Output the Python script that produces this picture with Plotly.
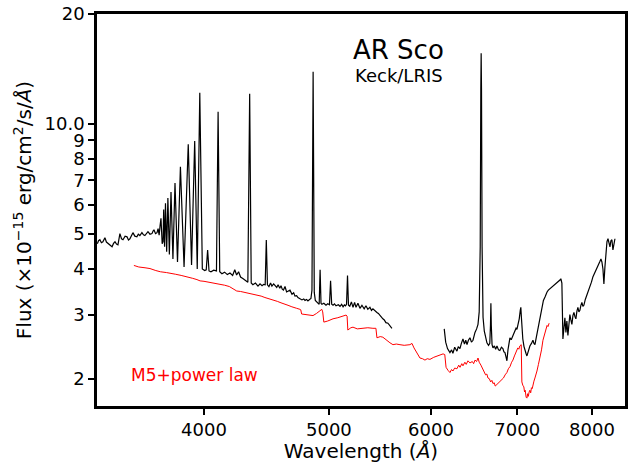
import math
import plotly.graph_objects as go

# ---- data (wavelength in Angstrom, flux in 1e-15 erg/cm2/s/A) ----
black_blue_arm = [
    (3306, 4.69), (3313, 4.78), (3321, 4.81), (3330, 4.72), (3339, 4.75), (3351, 4.87),
    (3360, 4.74), (3370, 4.69), (3382, 4.63), (3394, 4.60), (3403, 4.70), (3412, 4.75),
    (3421, 4.68), (3430, 4.66), (3442, 5.00), (3452, 4.84), (3461, 4.81), (3474, 4.92),
    (3486, 4.90), (3495, 4.80), (3504, 4.84), (3515, 4.96), (3523, 5.03), (3535, 4.92),
    (3548, 4.90), (3557, 4.98), (3567, 4.94), (3580, 5.03), (3590, 4.96), (3599, 4.94),
    (3610, 5.02), (3619, 5.06), (3632, 4.98), (3645, 5.00), (3652, 5.08), (3658, 5.12),
    (3668, 5.00), (3678, 5.03), (3685, 5.16), (3692, 4.95), (3698, 5.25), (3704, 5.51),
    (3712, 4.69), (3718, 4.75), (3722, 5.82), (3728, 4.60), (3734, 6.06), (3742, 4.46),
    (3750, 6.26), (3760, 4.38), (3771, 6.50), (3784, 4.26), (3798, 6.88), (3815, 4.18),
    (3835, 7.62), (3860, 4.05), (3889, 8.79), (3912, 4.10), (3934, 8.97), (3952, 4.00),
    (3970, 12.16), (3988, 4.00), (4005, 3.96), (4016, 3.98), (4026, 4.51), (4036, 3.95),
    (4050, 3.93), (4070, 3.97), (4090, 3.95), (4102, 10.79), (4114, 3.93), (4130, 3.88),
    (4150, 3.92), (4170, 3.86), (4190, 3.90), (4210, 3.84), (4226, 3.98), (4240, 3.85),
    (4255, 3.93), (4270, 3.80), (4290, 3.76), (4310, 3.72), (4326, 3.68), (4340, 12.08),
    (4352, 3.66), (4365, 3.62), (4385, 3.66), (4405, 3.59), (4421, 3.64), (4437, 3.60),
    (4450, 3.63), (4462, 3.62), (4471, 4.80), (4480, 3.62), (4492, 3.58), (4505, 3.66),
    (4516, 3.59), (4530, 3.64), (4541, 3.60), (4555, 3.56), (4566, 3.62), (4580, 3.54),
    (4590, 3.60), (4600, 3.52), (4610, 3.50), (4623, 3.58), (4636, 3.46), (4648, 3.48),
    (4664, 3.50), (4681, 3.41), (4695, 3.44), (4706, 3.37), (4720, 3.38), (4731, 3.34),
    (4748, 3.31), (4765, 3.29), (4780, 3.31), (4791, 3.28), (4805, 3.30), (4816, 3.27),
    (4830, 3.30), (4842, 3.32), (4851, 3.50), (4857, 8.0), (4861, 13.9), (4865, 8.0),
    (4871, 3.45), (4880, 3.28), (4894, 3.24), (4905, 3.22), (4914, 3.20), (4922, 3.98),
    (4930, 3.22), (4938, 3.20), (4955, 3.22), (4974, 3.18), (4990, 3.21), (5005, 3.19),
    (5015, 3.71), (5025, 3.20), (5037, 3.18), (5050, 3.21), (5064, 3.17), (5085, 3.19),
    (5100, 3.16), (5115, 3.20), (5128, 3.15), (5140, 3.19), (5150, 3.17), (5160, 3.20),
    (5169, 3.84), (5178, 3.18), (5190, 3.16), (5205, 3.25), (5220, 3.14), (5235, 3.24),
    (5248, 3.14), (5266, 3.22), (5285, 3.12), (5304, 3.18), (5325, 3.11), (5342, 3.17),
    (5360, 3.10), (5380, 3.14), (5395, 3.08), (5409, 3.11), (5430, 3.06), (5448, 3.04),
    (5462, 3.02), (5477, 2.98), (5490, 2.95), (5506, 2.92), (5520, 2.90), (5536, 2.85),
    (5556, 2.84), (5576, 2.79), (5596, 2.75),
]

black_red_arm = [
    (6144, 2.74), (6160, 2.52), (6180, 2.42), (6207, 2.36), (6225, 2.40), (6240, 2.35),
    (6260, 2.44), (6285, 2.38), (6300, 2.45), (6319, 2.42), (6335, 2.50), (6353, 2.57),
    (6370, 2.49), (6385, 2.55), (6399, 2.48), (6415, 2.55), (6433, 2.59), (6450, 2.52),
    (6468, 2.55), (6480, 2.62), (6491, 2.68), (6510, 2.74), (6526, 2.82), (6540, 3.05),
    (6552, 4.6), (6559, 12.5), (6563, 15.6), (6567, 12.5), (6574, 4.6), (6585, 2.95),
    (6600, 2.70), (6615, 2.58), (6631, 2.51), (6650, 2.47), (6665, 2.50), (6673, 2.80),
    (6678, 3.22), (6683, 2.80), (6692, 2.48), (6703, 2.43), (6720, 2.46), (6735, 2.41),
    (6751, 2.46), (6770, 2.40), (6786, 2.39), (6805, 2.44), (6823, 2.42), (6835, 2.37),
    (6848, 2.36), (6860, 2.30), (6872, 2.24), (6885, 2.40), (6900, 2.52), (6909, 2.59),
    (6925, 2.56), (6946, 2.63), (6960, 2.66), (6971, 2.70), (6985, 2.75), (6996, 2.73),
    (7010, 2.80), (7025, 2.92), (7038, 3.08), (7045, 3.14), (7052, 2.95), (7058, 2.68),
    (7070, 2.57), (7085, 2.45), (7096, 2.39), (7110, 2.35), (7122, 2.31), (7140, 2.40),
    (7160, 2.46), (7180, 2.50), (7199, 2.55), (7212, 2.50), (7225, 2.48), (7240, 2.58),
    (7251, 2.66), (7270, 2.80), (7290, 2.94), (7303, 3.06), (7316, 3.18), (7335, 3.28),
    (7356, 3.35), (7370, 3.42), (7383, 3.46), (7400, 3.50), (7420, 3.53), (7440, 3.56),
    (7460, 3.59), (7480, 3.60), (7500, 3.64), (7520, 3.66), (7540, 3.70), (7555, 3.73),
    (7567, 3.76), (7581, 3.66), (7595, 2.57), (7608, 2.75), (7622, 2.94), (7636, 2.68),
    (7649, 2.88), (7663, 2.63), (7676, 2.85), (7690, 3.00), (7704, 2.90), (7718, 2.82),
    (7732, 2.98), (7746, 3.04), (7760, 2.96), (7773, 2.92), (7787, 3.06), (7801, 3.14),
    (7815, 3.05), (7829, 3.08), (7843, 3.18), (7857, 3.24), (7871, 3.16), (7885, 3.18),
    (7905, 3.30), (7928, 3.39), (7950, 3.48), (7971, 3.57), (7992, 3.68), (8014, 3.81),
    (8035, 3.88), (8057, 3.98), (8078, 4.06), (8100, 4.13), (8115, 4.20), (8129, 4.26),
    (8143, 4.18), (8158, 4.00), (8172, 3.64), (8187, 4.05), (8202, 4.45), (8217, 4.75),
    (8232, 4.84), (8246, 4.70), (8261, 4.60), (8275, 4.78), (8290, 4.81), (8305, 4.51),
    (8320, 4.75), (8335, 4.84),
]

model_m5_powerlaw = [
    (3529, 4.09), (3560, 4.05), (3600, 4.03), (3632, 4.01), (3670, 3.96), (3700, 3.93),
    (3740, 3.91), (3764, 3.90), (3800, 3.87), (3840, 3.84), (3883, 3.81), (3920, 3.77),
    (3950, 3.74), (3972, 3.71), (4000, 3.70), (4040, 3.68), (4080, 3.66), (4116, 3.64),
    (4150, 3.61), (4185, 3.58), (4214, 3.53), (4241, 3.48), (4270, 3.47), (4300, 3.45),
    (4330, 3.44), (4365, 3.42), (4400, 3.39), (4430, 3.37), (4460, 3.34), (4500, 3.31),
    (4530, 3.29), (4560, 3.26), (4590, 3.23), (4620, 3.21), (4648, 3.18), (4680, 3.15),
    (4700, 3.14), (4720, 3.12), (4748, 3.10), (4755, 3.09), (4762, 3.01), (4790, 3.00),
    (4820, 2.99), (4860, 2.98), (4890, 3.02), (4915, 3.06), (4937, 3.10), (4945, 3.05),
    (4955, 2.86), (4990, 2.88), (5037, 2.92), (5080, 2.94), (5120, 2.96), (5156, 2.99),
    (5165, 2.97), (5172, 2.72), (5200, 2.76), (5220, 2.77), (5260, 2.74), (5313, 2.75),
    (5360, 2.76), (5409, 2.75), (5438, 2.75), (5448, 2.59), (5480, 2.61), (5506, 2.60),
    (5540, 2.55), (5576, 2.51), (5606, 2.48), (5640, 2.49), (5677, 2.48), (5720, 2.47),
    (5779, 2.48), (5800, 2.50), (5821, 2.43), (5852, 2.36), (5883, 2.28), (5910, 2.27),
    (5936, 2.25), (5960, 2.27), (5989, 2.26), (6030, 2.29), (6065, 2.31), (6100, 2.32),
    (6131, 2.34), (6150, 2.33), (6164, 2.15), (6185, 2.11), (6207, 2.08), (6225, 2.12),
    (6240, 2.10), (6260, 2.14), (6285, 2.13), (6305, 2.18), (6320, 2.15), (6340, 2.20),
    (6353, 2.17), (6375, 2.22), (6390, 2.19), (6410, 2.24), (6433, 2.21), (6460, 2.23),
    (6475, 2.20), (6491, 2.25), (6510, 2.23), (6526, 2.28), (6540, 2.22), (6560, 2.18),
    (6583, 2.12), (6600, 2.09), (6615, 2.05), (6630, 2.06), (6643, 2.01), (6660, 2.00),
    (6675, 1.96), (6690, 1.98), (6703, 1.94), (6718, 1.95), (6730, 1.91), (6751, 1.93),
    (6770, 1.95), (6786, 1.96), (6805, 1.99), (6830, 2.01), (6850, 2.05), (6872, 2.08),
    (6890, 2.13), (6910, 2.16), (6930, 2.22), (6946, 2.25), (6965, 2.31), (6980, 2.35),
    (6995, 2.40), (7007, 2.43), (7020, 2.41), (7032, 2.46), (7050, 2.48), (7058, 1.96),
    (7070, 1.92), (7083, 1.90), (7092, 1.84), (7100, 1.86), (7112, 1.78), (7122, 1.77),
    (7132, 1.82), (7140, 1.79), (7150, 1.84), (7160, 1.86), (7170, 1.83), (7180, 1.89),
    (7190, 1.88), (7199, 1.93), (7212, 1.97), (7225, 2.01), (7238, 2.05), (7251, 2.10),
    (7270, 2.19), (7290, 2.28), (7310, 2.40), (7329, 2.55), (7345, 2.62), (7355, 2.68),
    (7370, 2.74), (7383, 2.80), (7395, 2.78), (7410, 2.84),
]

x_tick_values = [4000, 5000, 6000, 7000, 8000]
y_tick_values = [2, 3, 4, 5, 6, 7, 8, 9, 10, 20]
y_tick_labels = ["2", "3", "4", "5", "6", "7", "8", "9", "10.0", "20"]

title_text = "AR Sco"
subtitle_text = "Keck/LRIS"
model_label = "M5+power law"

FONT = "DejaVu Sans"

fig = go.Figure()
for arm in (black_blue_arm, black_red_arm):
    fig.add_trace(go.Scatter(
        x=[p[0] for p in arm], y=[p[1] for p in arm], mode="lines",
        line=dict(color="black", width=1.2), showlegend=False, hoverinfo="skip"))
fig.add_trace(go.Scatter(
    x=[p[0] for p in model_m5_powerlaw], y=[p[1] for p in model_m5_powerlaw],
    mode="lines", line=dict(color="#ff0000", width=1.0), showlegend=False,
    hoverinfo="skip"))

axis_common = dict(
    showline=True, linecolor="black", linewidth=2.5, mirror=True,
    ticks="outside", ticklen=6, tickwidth=2, tickcolor="black",
    showgrid=False, zeroline=False, automargin=False,
    tickfont=dict(family=FONT, size=18, color="black"),
)

fig.update_layout(
    width=629, height=463,
    margin=dict(l=97, r=4, t=14, b=57),
    paper_bgcolor="white", plot_bgcolor="white",
    font=dict(family=FONT, color="black"),
    xaxis=dict(
        type="log", range=[math.log10(3304), math.log10(8486)],
        tickvals=x_tick_values, ticktext=[str(v) for v in x_tick_values],
        title=dict(text="Wavelength (<i>Å</i>)", font=dict(family=FONT, size=20),
                   standoff=4),
        **axis_common),
    yaxis=dict(
        type="log", range=[math.log10(1.684), math.log10(20)],
        tickvals=y_tick_values, ticktext=y_tick_labels,
        title=dict(text="Flux (×10<sup>−15</sup> erg/cm<sup>2</sup>/s/<i>Å</i>)",
                   font=dict(family=FONT, size=20), standoff=8),
        **axis_common),
    annotations=[
        dict(text=title_text, xref="paper", yref="paper", x=0.481, y=0.908,
             xanchor="left", yanchor="middle", showarrow=False,
             font=dict(family=FONT, size=26, color="black")),
        dict(text=subtitle_text, xref="paper", yref="paper", x=0.484, y=0.844,
             xanchor="left", yanchor="middle", showarrow=False,
             font=dict(family=FONT, size=18, color="black")),
        dict(text=model_label, xref="paper", yref="paper", x=0.060, y=0.079,
             xanchor="left", yanchor="middle", showarrow=False,
             font=dict(family=FONT, size=17, color="#ff0000")),
    ],
)

fig.write_html("out.html",
               config={"displayModeBar": False},
               post_script="document.body.style.margin='0px';"
                           "document.body.style.overflow='hidden';")
